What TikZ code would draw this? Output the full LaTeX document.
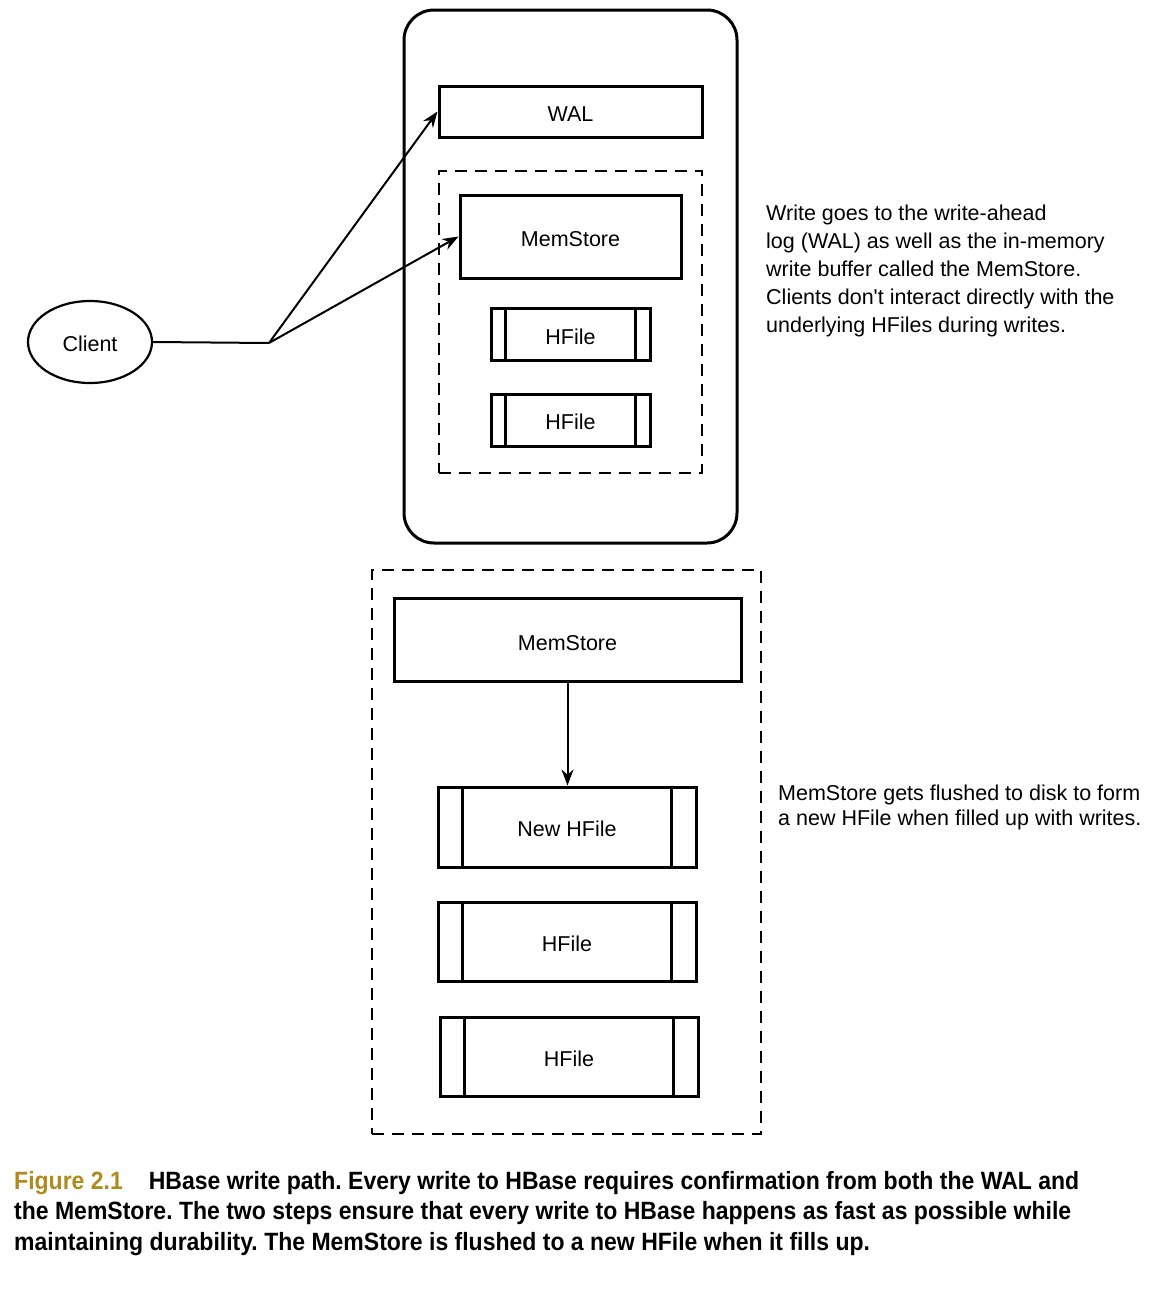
\documentclass[tikz,border=0pt]{standalone}
\usepackage{fontspec}
\setmainfont{Liberation Sans}
\newfontfamily\capfont[FakeStretch=0.92]{Liberation Sans}
\usetikzlibrary{arrows.meta,shapes.geometric}
\definecolor{figgold}{HTML}{B08A1E}
\frenchspacing
\begin{document}
\begin{tikzpicture}[x=1pt,y=-1pt,
  box/.style={draw,line width=3pt,rectangle,inner sep=0pt,text depth=0pt,font=\fontsize{21.5}{24}\selectfont},
  dashbox/.style={draw,line width=2.2pt,dash pattern=on 12pt off 8pt},
  conn/.style={line width=2pt,-{Stealth[length=16pt,width=12pt]}},
  note/.style={align=left,anchor=north west,inner sep=0pt,font=\fontsize{21.5}{28}\selectfont}]
\useasboundingbox[fill=white] (0,0) rectangle (1160,1296);
% outer region
\node[draw,line width=3pt,rounded corners=30pt,minimum width=333pt,minimum height=533pt,inner sep=0pt] (region) at (570.5,276.5) {};
\node[box,minimum width=263pt,minimum height=51pt] (wal) at (570.5,111.5) {\raisebox{-6pt}{WAL}};
\node[dashbox,minimum width=263pt,minimum height=302pt,inner sep=0pt] (store) at (570.5,322) {};
\node[box,minimum width=221pt,minimum height=83pt] (mem) at (570.5,236.5) {\raisebox{-5pt}{MemStore}};
\node[box,minimum width=159pt,minimum height=52pt] (hf1) at (570.5,334) {\raisebox{-5pt}{HFile}};
\node[box,minimum width=159pt,minimum height=52pt] (hf2) at (570.5,420) {\raisebox{-4pt}{HFile}};
\foreach \n in {hf1,hf2}{
  \draw[line width=3pt] ([xshift=16pt]\n.north west) -- ([xshift=16pt]\n.south west);
  \draw[line width=3pt] ([xshift=-16pt]\n.north east) -- ([xshift=-16pt]\n.south east);
}
% client
\node[draw,ellipse,line width=2.2pt,minimum width=124pt,minimum height=82pt,inner sep=0pt,text depth=0pt,font=\fontsize{21.5}{24}\selectfont] (client) at (90,342) {\raisebox{-3pt}{Client}};
\coordinate (j) at (269,343);
\draw[line width=2pt] (client.east) -- (j);
\draw[conn] (j) -- (wal.west);
\draw[conn] (j) -- (mem.west);
\node[note] (note1) at (766,205) {Write goes to the write-ahead\\log (WAL) as well as the in-memory\\write buffer called the MemStore.\\Clients don\textquotesingle t interact directly with the\\underlying HFiles during writes.};
% lower flush panel
\node[dashbox,minimum width=389pt,minimum height=564pt,inner sep=0pt] (flush) at (566.5,852) {};
\node[box,minimum width=347pt,minimum height=83pt] (mem2) at (567.5,639.5) {\raisebox{-6pt}{MemStore}};
\node[box,minimum width=258pt,minimum height=80pt] (nhf) at (567,827) {\raisebox{-4pt}{New HFile}};
\node[box,minimum width=258pt,minimum height=79pt] (hf3) at (567,941.5) {\raisebox{-5pt}{HFile}};
\node[box,minimum width=258pt,minimum height=79pt] (hf4) at (569,1056.5) {\raisebox{-5pt}{HFile}};
\foreach \n in {nhf,hf3,hf4}{
  \draw[line width=3pt] ([xshift=26pt]\n.north west) -- ([xshift=26pt]\n.south west);
  \draw[line width=3pt] ([xshift=-26pt]\n.north east) -- ([xshift=-26pt]\n.south east);
}
\draw[conn] (mem2.south) -- (mem2.south |- nhf.north);
\node[note,font=\fontsize{21.5}{25}\selectfont] (note2) at (778,785) {MemStore gets flushed to disk to form\\a new HFile when filled up with writes.};
% caption
\node[anchor=north west,align=left,inner sep=0pt,font=\capfont\bfseries\fontsize{25}{30.5}\selectfont] (cap) at (14,1171)
{{\color{figgold}Figure 2.1}\hspace{26pt}HBase write path. Every write to HBase requires confirmation from both the WAL and\\the MemStore. The two steps ensure that every write to HBase happens as fast as possible while\\maintaining durability. The MemStore is flushed to a new HFile when it fills up.};
\end{tikzpicture}
\end{document}
